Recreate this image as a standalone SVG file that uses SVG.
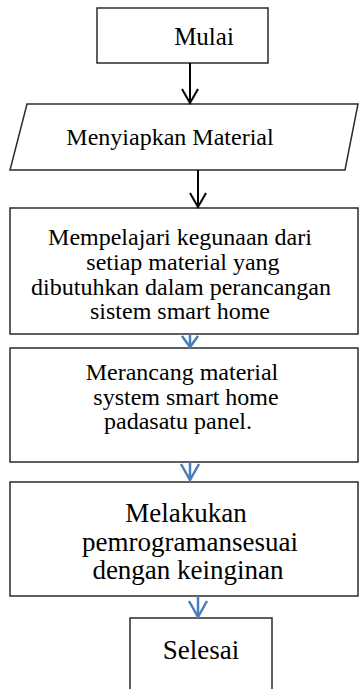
<svg xmlns="http://www.w3.org/2000/svg" width="359" height="689" viewBox="0 0 359 689">
<style>
.box{fill:#fff;stroke:#2b2b2b;stroke-width:1.5}
.t{font-family:"Liberation Serif","Times New Roman",serif;fill:#000;text-anchor:middle}
.ak{fill:none;stroke:#000;stroke-width:2}
.ab{fill:none;stroke:#4a7ebb;stroke-width:2.5}
</style>
<rect width="359" height="689" fill="#fff"/>
<g id="mulai">
<rect class="box" x="97" y="8" width="171" height="55"/>
<text class="t" x="204" y="45" font-size="25">Mulai</text>
</g>
<g id="menyiapkan">
<polygon class="box" points="27,104 358,104 345,170 10,170"/>
<text class="t" x="170" y="145" font-size="24">Menyiapkan Material</text>
</g>
<g id="mempelajari">
<rect class="box" x="10" y="208" width="348" height="126"/>
<text class="t" font-size="24"><tspan x="180" y="245">Mempelajari kegunaan dari</tspan><tspan x="183" y="270">setiap material yang</tspan><tspan x="181" y="295">dibutuhkan dalam perancangan</tspan><tspan x="180" y="319">sistem smart home</tspan></text>
</g>
<g id="merancang">
<rect class="box" x="10" y="348" width="348" height="114"/>
<text class="t" font-size="24"><tspan x="182" y="380">Merancang material</tspan><tspan x="186" y="405">system smart home</tspan><tspan x="178" y="429">padasatu panel.</tspan></text>
</g>
<g id="melakukan">
<rect class="box" x="10" y="482" width="348" height="114"/>
<text class="t" font-size="27"><tspan x="186" y="522">Melakukan</tspan><tspan x="190" y="551">pemrogramansesuai</tspan><tspan x="188" y="579">dengan keinginan</tspan></text>
</g>
<g id="selesai">
<rect class="box" x="130" y="618" width="142" height="80"/>
<text class="t" x="201" y="659" font-size="27">Selesai</text>
</g>
<g id="connectors">
<line class="ak" x1="190" y1="63" x2="190" y2="103"/>
<polyline class="ak" points="182,89 190,103 198,89"/>
<line class="ak" x1="198" y1="170" x2="198" y2="207"/>
<polyline class="ak" points="190,193 198,207 206,193"/>
<polyline class="ab" points="182,336 190,347 198,336"/>
<line class="ab" x1="190" y1="334" x2="190" y2="347"/>
<polyline class="ab" points="181,464 190,480 199,464"/>
<line class="ab" x1="190" y1="462" x2="190" y2="480"/>
<polyline class="ab" points="189,601 198,617 207,601"/>
<line class="ab" x1="198" y1="596" x2="198" y2="617"/>
</g>
</svg>
